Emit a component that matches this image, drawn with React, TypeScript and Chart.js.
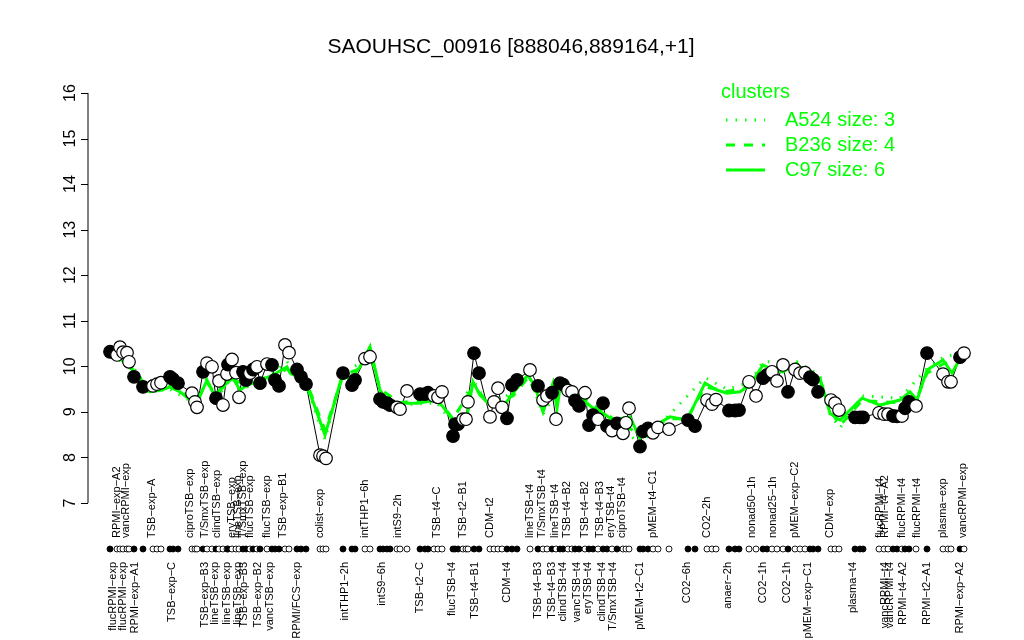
import React, { useEffect, useRef } from "react";
import { Chart, registerables } from "chart.js";

Chart.register(...registerables);

const TITLE = "SAOUHSC_00916 [888046,889164,+1]";

// sample positions along the x axis, expression values, and whether the marker is filled
const pointPos = [10,17,20,23,27,29,34,43,53,57,61,70,73,78,92,95,97,103,107,112,116,119,123,127,128,132,136,139,143,146,150,153,157,160,167,172,175,179,185,189,197,201,206,220,223,226,243,252,255,265,270,280,283,287,290,297,300,307,320,325,328,334,338,342,353,355,358,363,366,368,374,379,390,394,398,402,407,412,417,430,438,443,447,452,456,460,463,468,472,475,479,485,489,493,498,503,507,512,517,523,526,529,540,543,548,553,558,569,588,595,607,612,616,629,635,639,649,656,663,667,672,677,683,688,695,700,705,710,713,718,731,735,739,755,760,763,779,784,788,793,797,802,805,809,816,827,843,848,851,860,864];
const pointVal = [10.32,10.25,10.42,10.31,10.30,10.10,9.77,9.55,9.57,9.61,9.64,9.77,9.72,9.63,9.41,9.22,9.10,9.88,10.07,9.99,9.30,9.68,9.15,9.83,10.04,10.15,9.86,9.32,9.88,9.70,9.85,9.93,9.99,9.63,10.05,10.03,9.70,9.57,10.47,10.30,9.93,9.77,9.61,8.05,8.03,7.98,9.85,9.59,9.70,10.17,10.21,9.28,9.22,9.19,9.15,9.10,9.06,9.46,9.39,9.39,9.42,9.35,9.32,9.44,8.47,8.73,8.73,8.84,8.84,9.22,10.29,9.85,8.89,9.22,9.52,9.10,8.86,9.59,9.70,9.92,9.57,9.26,9.35,9.42,8.84,9.63,9.60,9.47,9.44,9.25,9.13,9.42,8.71,8.93,8.84,9.19,8.69,8.59,8.75,8.53,8.76,9.08,8.24,8.57,8.64,8.54,8.66,8.62,8.82,8.69,9.26,9.17,9.27,9.03,9.03,9.04,9.66,9.35,9.74,9.81,9.88,9.68,10.03,9.44,9.93,9.85,9.86,9.76,9.71,9.44,9.26,9.19,9.04,8.88,8.88,8.88,8.98,8.95,8.95,8.91,8.90,8.91,9.08,9.22,9.13,10.29,9.83,9.66,9.66,10.20,10.29];
const pointFilled = [1,0,0,0,0,0,1,1,0,0,0,1,1,1,0,0,0,1,0,0,1,0,0,0,1,0,0,0,1,1,0,1,0,1,0,1,1,1,0,0,1,1,1,0,0,0,1,1,1,0,0,1,1,1,1,0,0,0,1,1,1,0,0,0,1,1,1,0,0,0,1,1,0,0,0,0,1,1,1,0,1,0,0,1,0,1,1,0,0,1,1,0,1,1,0,1,1,0,1,0,0,0,1,1,1,0,0,0,1,1,0,0,0,1,1,1,0,0,1,1,0,0,0,1,0,0,0,1,1,1,0,0,0,1,1,1,0,0,0,1,1,0,1,1,0,1,0,0,0,1,0];

// cluster profiles
const c97Pos = [10,31,43,50,62,70,80,88,97,107,115,122,133,140,147,157,173,187,190,200,210,225,243,250,260,270,280,287,300,317,337,343,353,367,373,380,390,398,403,413,422,428,435,443,453,457,460,473,487,493,503,513,530,540,547,570,587,605,617,627,640,650,663,673,683,697,707,720,730,740,762,780,800,810,817,827,843,852,862];
const c97Val = [10.3,10.0,9.48,9.44,9.48,9.55,9.44,9.3,9.2,9.7,9.33,9.55,9.74,9.48,9.59,9.66,9.81,9.99,9.85,9.74,9.41,8.49,9.85,9.7,9.99,10.43,9.48,9.26,9.19,9.19,9.26,9.11,8.82,8.89,9.66,9.37,9.15,9.3,9.11,9.41,9.66,9.81,9.55,9.0,9.63,9.08,9.52,9.48,9.19,9.08,8.97,8.82,8.89,8.42,8.6,8.89,8.82,9.63,9.48,9.41,9.44,9.59,10.03,9.92,9.88,10.07,9.77,9.74,8.97,8.82,9.3,9.15,9.26,9.44,9.26,9.92,10.14,9.85,10.25];
const b236Pos = [10,31,50,70,88,97,107,115,133,147,173,187,200,210,225,243,260,270,280,300,337,353,373,390,413,428,443,460,487,513,540,570,587,605,627,650,663,697,720,730,740,762,800,817,827,843,862];
const b236Val = [10.25,9.95,9.5,9.6,9.35,9.25,9.65,9.4,9.7,9.6,9.75,9.95,9.7,9.45,8.6,9.8,9.95,10.3,9.5,9.2,9.3,8.85,9.55,9.2,9.35,9.75,9.1,9.5,9.25,8.85,8.5,8.85,8.85,9.55,9.45,9.55,9.95,10.0,9.7,9.05,8.7,9.25,9.2,9.3,9.85,10.05,10.2];
const a524Pos = [10,31,50,70,97,107,115,133,147,173,187,200,210,225,243,260,270,280,300,337,353,373,390,413,428,443,460,487,513,540,570,605,627,650,663,697,720,730,740,762,800,827,843,862];
const a524Val = [10.2,10.05,9.45,9.5,9.15,9.75,9.25,9.8,9.55,9.85,10.1,9.8,9.35,8.4,9.9,10.05,10.4,9.4,9.15,9.2,8.75,9.7,9.1,9.45,9.85,8.95,9.6,9.15,8.8,8.3,8.95,9.75,9.5,9.65,10.1,10.1,9.8,8.95,8.65,9.35,9.3,9.95,10.2,10.3];

const yTicks = [7, 8, 9, 10, 11, 12, 13, 14, 15, 16];

const topLabels = ["RPMI\u2212exp\u2212A2","vancRPMI\u2212exp","TSB\u2212exp\u2212A","ciproTSB\u2212exp","T/SmxTSB\u2212exp","clindTSB\u2212exp","eryTSB\u2212exp","lineTSB\u2212exp","T/SmxTSB\u2212exp","flucTSB\u2212exp","flucTSB\u2212exp","TSB\u2212exp\u2212B1","colist\u2212exp","intTHP1\u22126h","intS9\u22122h","TSB\u2212t4\u2212C","TSB\u2212t2\u2212B1","CDM\u2212t2","lineTSB\u2212t4","T/SmxTSB\u2212t4","lineTSB\u2212t4","TSB\u2212t4\u2212B2","TSB\u2212t4\u2212B2","TSB\u2212t4\u2212B3","eryTSB\u2212t4","ciproTSB\u2212t4","pMEM\u2212t4\u2212C1","CO2\u22122h","nonad50\u22121h","nonad25\u22121h","pMEM\u2212exp\u2212C2","CDM\u2212exp","flucRPMI\u2212t4","RPMI\u2212t4\u2212A2","flucRPMI\u2212t4","flucRPMI\u2212t4","plasma\u2212exp","vancRPMI\u2212exp"];
const topLabelPos = [17,26,52,90,105,117,132,138,143,150,167,183,220,265,298,337,363,390,430,442,455,467,485,500,511,522,553,607,652,673,695,730,780,785,802,817,843,863];
const bottomLabels = ["flucRPMI\u2212exp","flucRPMI\u2212exp","RPMI\u2212exp\u2212A1","TSB\u2212exp\u2212C","TSB\u2212exp\u2212B3","lineTSB\u2212exp","lineTSB\u2212exp","lineTSB\u2212exp","TSB\u2212exp\u2212B3","TSB\u2212exp\u2212B2","vancTSB\u2212exp","RPMI/FCS\u2212exp","intTHP1\u22122h","intS9\u22126h","TSB\u2212t2\u2212C","flucTSB\u2212t4","TSB\u2212t4\u2212B1","CDM\u2212t4","TSB\u2212t4\u2212B3","TSB\u2212t4\u2212B3","clindTSB\u2212t4","vancTSB\u2212t4","eryTSB\u2212t4","clindTSB\u2212t4","T/SmxTSB\u2212t4","pMEM\u2212t2\u2212C1","CO2\u22126h","anaer\u22122h","CO2\u22121h","CO2\u22121h","pMEM\u2212exp\u2212C1","plasma\u2212t4","vancRPMI\u2212t4","vancRPMI\u2212t4","RPMI\u2212t4\u2212A2","RPMI\u2212t2\u2212A1","RPMI\u2212exp\u2212A2"];
const bottomLabelPos = [13,23,35,72,105,115,127,138,144,158,170,197,245,282,320,352,375,407,438,452,463,477,488,502,513,540,587,628,663,687,708,753,785,790,803,827,860];

const legendItems = ["A524 size: 3", "B236 size: 4", "C97 size: 6"];

const GREEN = "rgb(0,255,0)";
const FONT = '"Liberation Sans", Arial, Helvetica, sans-serif';

const toXY = (xs: number[], ys: number[]) => xs.map((x, i) => ({ x, y: ys[i] }));

const decorPlugin = {
  id: "decor",
  afterDraw(chart: any) {
    const { ctx } = chart;
    const xs = chart.scales.x;
    const ys = chart.scales.y;
    const axisX = chart.chartArea.left;
    ctx.save();
    // y axis
    ctx.strokeStyle = "#000";
    ctx.lineWidth = 1;
    ctx.beginPath();
    ctx.moveTo(axisX, ys.getPixelForValue(yTicks[0]));
    ctx.lineTo(axisX, ys.getPixelForValue(yTicks[yTicks.length - 1]));
    yTicks.forEach((t) => {
      const py = Math.round(ys.getPixelForValue(t)) + 0.5;
      ctx.moveTo(axisX - 7, py);
      ctx.lineTo(axisX, py);
    });
    ctx.stroke();
    ctx.fillStyle = "#000";
    ctx.font = `16px ${FONT}`;
    ctx.textAlign = "center";
    ctx.textBaseline = "middle";
    yTicks.forEach((t) => {
      const py = ys.getPixelForValue(t);
      ctx.save();
      ctx.translate(axisX - 17, py);
      ctx.rotate(-Math.PI / 2);
      ctx.fillText(String(t), 0, 0);
      ctx.restore();
    });
    // title
    ctx.font = `21px ${FONT}`;
    ctx.textAlign = "center";
    ctx.textBaseline = "middle";
    ctx.fillText(TITLE, 511, 47);
    // legend
    ctx.fillStyle = GREEN;
    ctx.strokeStyle = GREEN;
    ctx.textAlign = "left";
    ctx.font = `20px ${FONT}`;
    ctx.fillText("clusters", 721, 92);
    const dashes = [[1.5, 8], [9, 9], []];
    legendItems.forEach((lab, i) => {
      const ly = 120 + i * 25;
      ctx.lineWidth = 3;
      ctx.setLineDash(dashes[i]);
      ctx.beginPath();
      ctx.moveTo(726, ly);
      ctx.lineTo(765, ly);
      ctx.stroke();
      ctx.setLineDash([]);
      ctx.fillText(lab, 785, ly);
    });
    // x labels
    ctx.fillStyle = "#000";
    ctx.font = `11px ${FONT}`;
    ctx.textBaseline = "middle";
    topLabels.forEach((lab, i) => {
      const px = xs.getPixelForValue(topLabelPos[i]);
      ctx.save();
      ctx.translate(px, 538);
      ctx.rotate(-Math.PI / 2);
      ctx.textAlign = "left";
      ctx.fillText(lab, 0, 0);
      ctx.restore();
    });
    bottomLabels.forEach((lab, i) => {
      const px = xs.getPixelForValue(bottomLabelPos[i]);
      ctx.save();
      ctx.translate(px, 562);
      ctx.rotate(-Math.PI / 2);
      ctx.textAlign = "right";
      ctx.fillText(lab, 0, 0);
      ctx.restore();
    });
    // dot row
    ctx.lineWidth = 0.9;
    ctx.strokeStyle = "#000";
    pointPos.forEach((p, i) => {
      const px = xs.getPixelForValue(p);
      ctx.beginPath();
      ctx.arc(px, 549, 3, 0, Math.PI * 2);
      ctx.fillStyle = pointFilled[i] ? "#000" : "#fff";
      ctx.fill();
      ctx.stroke();
    });
    ctx.restore();
  },
};

export default function App() {
  const ref = useRef<HTMLCanvasElement | null>(null);
  useEffect(() => {
    if (!ref.current) return;
    const chart = new Chart(ref.current, {
      type: "line",
      data: {
        datasets: [
          {
            label: "samples",
            data: toXY(pointPos, pointVal),
            showLine: false,
            pointRadius: 6.3,
            pointBorderWidth: 1.2,
            pointBorderColor: "#000",
            pointBackgroundColor: pointFilled.map((f) => (f ? "#000" : "#fff")),
            order: 0,
          },
          {
            label: "C97",
            data: toXY(c97Pos, c97Val),
            borderColor: GREEN,
            borderWidth: 3,
            pointRadius: 0,
            order: 1,
          },
          {
            label: "B236",
            data: toXY(b236Pos, b236Val),
            borderColor: GREEN,
            borderWidth: 3,
            borderDash: [9, 9],
            pointRadius: 0,
            order: 2,
          },
          {
            label: "A524",
            data: toXY(a524Pos, a524Val),
            borderColor: GREEN,
            borderWidth: 3,
            borderDash: [1.5, 8],
            pointRadius: 0,
            order: 3,
          },
          {
            label: "profile",
            data: toXY(pointPos, pointVal),
            borderColor: "#000",
            borderWidth: 1,
            pointRadius: 0,
            order: 4,
          },
        ],
      },
      options: {
        responsive: false,
        animation: false,
        layout: { padding: { left: 88, right: 34, top: 93, bottom: 137 } },
        scales: {
          x: { type: "linear", display: false, min: -12, max: 890 },
          y: { type: "linear", display: false, min: 7, max: 16 },
        },
        plugins: {
          legend: { display: false },
          tooltip: { enabled: false },
          title: { display: false },
        },
        elements: { line: { tension: 0 } },
      },
      plugins: [decorPlugin],
    });
    return () => chart.destroy();
  }, []);
  return (
    <div style={{ position: "fixed", left: 0, top: 0, width: 1024, height: 640, background: "#fff" }}>
      <canvas ref={ref} width={1024} height={640} />
    </div>
  );
}
